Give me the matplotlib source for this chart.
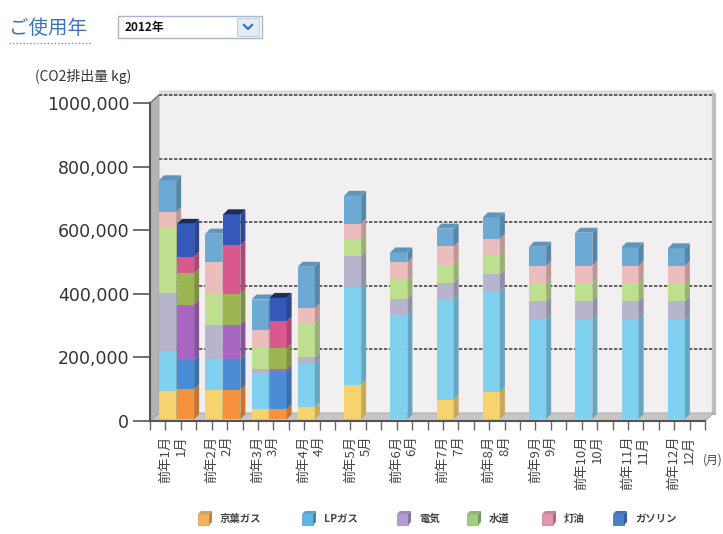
import numpy as np
import matplotlib
matplotlib.use("Agg")
import matplotlib.pyplot as plt
from matplotlib.patches import Polygon, Rectangle
from matplotlib.colors import to_rgb

plt.rcParams['font.family'] = ['Noto Sans CJK JP', 'DejaVu Sans']

# ---- data (CO2 kg, in thousands) ----
month_nums = list(range(1, 13))
sources = ["京葉ガス", "LPガス", "電気", "水道", "灯油", "ガソリン"]

prev_city = [90, 93, 32, 39, 108, 0, 62, 85, 2, 2, 2, 2]
prev_lp = [124, 96, 115, 136, 306, 329, 315, 315, 311, 311, 311, 311]
prev_elec = [184, 108, 12, 21, 99, 51, 53, 56, 59, 59, 59, 59]
prev_water = [205, 98, 66, 106, 55, 60, 56, 57, 55, 55, 55, 55]
prev_kero = [48, 101, 56, 48, 48, 54, 58, 55, 56, 56, 56, 56]
prev_gas = [101, 88, 96, 130, 87, 31, 56, 67, 60, 104, 58, 55]

cur_city = [95, 93, 32]
cur_lp = [91, 96, 117]
cur_elec = [175, 108, 10]
cur_water = [98, 98, 64]
cur_kero = [53, 152, 85]
cur_gas = [103, 98, 74]

yticks = [0, 200000, 400000, 600000, 800000, 1000000]
ytick_labels = ["0", "200,000", "400,000", "600,000", "800,000", "1000,000"]

prev_colors = ['#f7d36f', '#80d0ef', '#b7b5cd', '#bddf8f', '#ecbdbd', '#6ca9d3']
cur_colors = ['#f6923c', '#4a8dd6', '#a866c2', '#9bb653', '#d9598f', '#3559b8']
legend_colors = ['#f4b35a', '#5db6e8', '#b59ad8', '#9fcf7d', '#e693ad', '#4a7fcf']

W, H = 723, 534
PXM = 46.25          # px per month
PXK = 318e-6         # px per kg
X0, Y0 = 150, 421    # pixel of data (0, 0)
DX, DY = 9 / PXM, 8 / PXK        # box depth
BDX, BDY = 5 / PXM, 5 / PXK      # bar depth
BASE = 5000
BW = 0.37


def shade(c, f):
    r, g, b = to_rgb(c)
    return (r * f, g * f, b * f)


def draw_bar(ax, x, segs, colors, topf, z):
    b = BASE
    for v, c in zip(segs, colors):
        if v <= 0:
            continue
        t = b + v
        ax.bar(x, v, BW, bottom=b, align='edge', color=c, lw=0, zorder=z)
        ax.add_patch(Polygon([(x + BW, b), (x + BW + BDX, b + BDY), (x + BW + BDX, t + BDY), (x + BW, t)],
                             closed=True, fc=shade(c, 0.8), lw=0, zorder=z))
        b = t
        lastc = c
    ax.add_patch(Polygon([(x, b), (x + BDX, b + BDY), (x + BW + BDX, b + BDY), (x + BW, b)],
                         closed=True, fc=shade(lastc, topf), lw=0, zorder=z))


fig = plt.figure(figsize=(W / 100, H / 100), dpi=100)

# overlay in pixel coords for header / legend
ov = fig.add_axes([0, 0, 1, 1])
ov.set_xlim(0, W); ov.set_ylim(H, 0); ov.axis('off')

ov.text(9, 29, "ご使用年", fontsize=14, color='#3f74b8', va='center', ha='left')
ov.plot([9, 92], [43, 43], ls=(0, (1, 1.5)), color='#7a90b0', lw=1)
ov.add_patch(Rectangle((118, 16), 144, 22, fc='white', ec='#a9b4c4', lw=1))
ov.add_patch(Rectangle((237, 18), 22, 18, fc='#e4ebf3', ec='#c5d0dd', lw=0.8))
ov.plot([244, 248, 252], [25, 29, 25], color='#3d6fb5', lw=1.6)
ov.text(125, 27, "2012年", fontsize=8.5, fontweight='bold', va='center', color='#111')
ov.text(35, 77, "(CO2排出量 kg)", fontsize=10, color='#333', va='center')
ov.text(703, 460, "(月)", fontsize=8.5, color='#444', va='center')

leg_x = [198, 302, 397, 467, 542, 613]
for lx, name, c in zip(leg_x, sources, legend_colors):
    ly = 519
    ov.add_patch(Rectangle((lx, ly - 5), 11, 11, fc=c, ec=shade(c, 0.85), lw=0.5))
    ov.add_patch(Polygon([(lx, ly - 5), (lx + 3, ly - 8), (lx + 14, ly - 8), (lx + 11, ly - 5)],
                         closed=True, fc=shade(c, 0.9), lw=0))
    ov.add_patch(Polygon([(lx + 11, ly - 5), (lx + 14, ly - 8), (lx + 14, ly + 3), (lx + 11, ly + 6)],
                         closed=True, fc=shade(c, 0.75), lw=0))
    ov.text(lx + 22, ly, name, fontsize=7.5, fontweight='bold', color='#444', va='center', ha='left')

# main chart axes, mapped so data (0,0) lands at pixel (X0, Y0)
xl = (-0.5, 12.5)
yl = (-60000, 1060000)
left = X0 + xl[0] * PXM
ax = fig.add_axes([left / W, 1 - (Y0 - yl[0] * PXK) / H,
                   (xl[1] - xl[0]) * PXM / W, (yl[1] - yl[0]) * PXK / H])
ax.set_xlim(*xl); ax.set_ylim(*yl)
ax.patch.set_visible(False)

# back wall, grid, left wall, floor
ax.add_patch(Polygon([(DX, DY), (12 + DX, DY), (12 + DX, 1e6 + DY), (DX, 1e6 + DY)],
                     closed=True, fc='#f1efef', lw=0, zorder=0))
ax.plot([DX, 12 + DX], [1e6 + DY + 6000] * 2, color='#dedede', lw=4, zorder=0.5, solid_capstyle='butt')
for v in yticks[1:]:
    ax.plot([DX, 12 + DX], [v + DY, v + DY], color='#4a4a4a', lw=1.2, ls=(0, (2, 1)), zorder=1)
ax.plot([12 + DX, 12 + DX], [DY, 1e6 + DY], color='#bdbdbd', lw=3, zorder=1)
ax.add_patch(Polygon([(0, 0), (DX, DY), (DX, 1e6 + DY), (0, 1e6)],
                     closed=True, fc='#b4b4b4', ec='#9a9a9a', lw=0.5, zorder=2))
ax.plot([0, DX], [1e6, 1e6 + DY], color='#777', lw=1, zorder=2)
ax.add_patch(Polygon([(0, 0), (12, 0), (12 + DX, DY), (DX, DY)],
                     closed=True, fc='#c6c6c6', ec='#9a9a9a', lw=0.5, zorder=2))

prev_segs = list(zip(prev_city, prev_lp, prev_elec, prev_water, prev_kero, prev_gas))
cur_segs = list(zip(cur_city, cur_lp, cur_elec, cur_water, cur_kero, cur_gas))
for m in range(12):
    draw_bar(ax, m + 0.195, [v * 1000 for v in prev_segs[m]], prev_colors, 0.88, 3)
    if m < len(cur_segs):
        draw_bar(ax, m + 0.584, [v * 1000 for v in cur_segs[m]], cur_colors, 0.5, 3)

# axes: front left axis and front floor edge
for s in ('top', 'right'):
    ax.spines[s].set_visible(False)
ax.spines['left'].set_position(('data', 0))
ax.spines['left'].set_bounds(0, 1e6)
ax.spines['bottom'].set_position(('data', 0))
ax.spines['bottom'].set_bounds(0, 12)
for s in ('left', 'bottom'):
    ax.spines[s].set_color('#555')
    ax.spines[s].set_linewidth(1.5)
    ax.spines[s].set_zorder(4)

ax.set_yticks(yticks)
ax.set_yticklabels(ytick_labels, family='DejaVu Sans', fontsize=12.5, color='#333')
ax.tick_params(axis='y', length=12, width=1.2, color='#555', pad=3)

xt = np.arange(37) / 3
xlabels = []
for k in range(37):
    m = k // 3 + 1
    if k % 3 == 1:
        xlabels.append(f"前年{m}月")
    elif k % 3 == 2:
        xlabels.append(f"{m}月")
    else:
        xlabels.append("")
ax.set_xticks(xt)
ax.set_xticklabels(xlabels, rotation=90, fontsize=9.5, color='#444')
ax.tick_params(axis='x', length=6.5, width=1, color='#666', pad=4)

fig.savefig("out.png", dpi=100)
